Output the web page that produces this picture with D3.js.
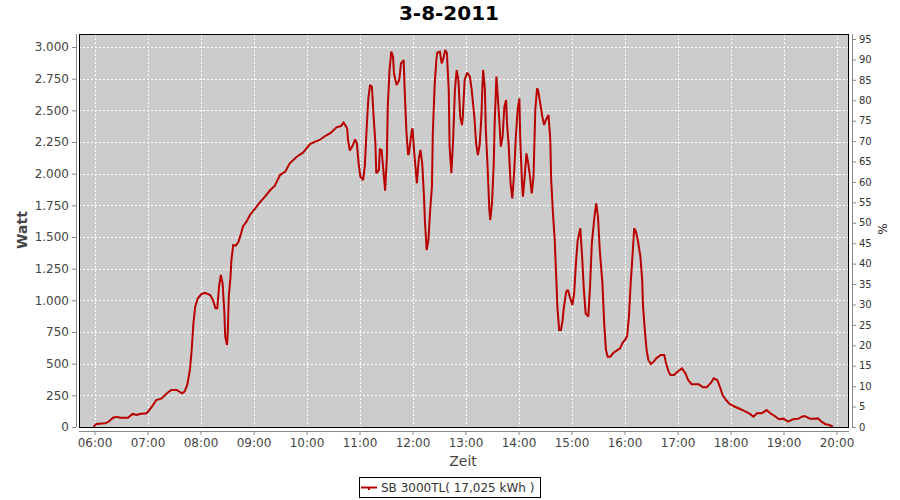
<!DOCTYPE html>
<html>
<head>
<meta charset="utf-8">
<script src="https://cdn.jsdelivr.net/npm/d3@7/dist/d3.min.js"></script>
<style>
  html, body { margin: 0; padding: 0; background: #fff; }
  svg { display: block; font-family: "DejaVu Sans", sans-serif; }
</style>
</head>
<body>
<svg id="chart" width="900" height="500"></svg>
<script>
const title = "3-8-2011";
const seriesName = "SB 3000TL( 17,025 kWh )";
const xLabel = "Zeit";
const yLabel = "Watt";
const y2Label = "%";

const times = [
  "05:59","06:02","06:12","06:16","06:21","06:25","06:29","06:38","06:43","06:48","06:51","06:59",
  "07:05","07:10","07:16","07:22","07:27","07:33","07:39","07:42","07:45","07:48","07:50","07:52","07:54","07:57",
  "08:01","08:05","08:11","08:14","08:17","08:19","08:21","08:23","08:25","08:27","08:28","08:30","08:31","08:32","08:34","08:35","08:37","08:40","08:43","08:46","08:48","08:52","08:56",
  "09:02","09:07","09:13","09:19","09:24","09:30","09:36","09:41","09:49","09:56",
  "10:04","10:10","10:15","10:21","10:27","10:34","10:39","10:42","10:46","10:47","10:49","10:52","10:55","10:57","10:59",
  "11:01","11:04","11:06","11:08","11:10","11:12","11:14","11:16","11:18","11:19","11:22","11:23","11:25","11:27","11:29","11:31","11:32","11:34","11:36","11:38","11:39","11:42","11:45","11:47","11:50","11:51","11:53","11:55","11:56","11:59",
  "12:00","12:02","12:04","12:05","12:07","12:09","12:11","12:13","12:14","12:16","12:18","12:20","12:22","12:23","12:25","12:27","12:28","12:31","12:33","12:35","12:37","12:39","12:41","12:42","12:44","12:46","12:48","12:50","12:52","12:54","12:56","12:57","12:59",
  "13:02","13:05","13:07","13:10","13:12","13:14","13:16","13:18","13:19","13:20","13:22","13:23","13:25","13:27","13:28","13:30","13:32","13:33","13:35","13:36","13:38","13:40","13:42","13:44","13:46","13:47","13:49","13:51","13:53","13:55","13:57","13:59",
  "14:01","14:02","14:04","14:05","14:07","14:09","14:11","14:13","14:15","14:17","14:19","14:21","14:22","14:24","14:27","14:29","14:31","14:34","14:36","14:37","14:39","14:41","14:43","14:44","14:46","14:48","14:50","14:51","14:54","14:56","14:58",
  "15:01","15:03","15:05","15:07","15:10","15:12","15:14","15:16","15:19","15:21","15:23","15:26","15:28","15:30","15:32","15:35","15:37","15:39","15:41","15:44","15:47","15:51","15:55","15:58",
  "16:01","16:03","16:05","16:07","16:09","16:11","16:13","16:15","16:18","16:20","16:21","16:23","16:25","16:27","16:30","16:33","16:36","16:41","16:45","16:47","16:50","16:52","16:56",
  "17:00","17:05","17:09","17:12","17:16","17:24","17:29","17:33","17:38","17:41","17:45","17:48","17:51","17:55","17:59",
  "18:05","18:11","18:16","18:22","18:26","18:30","18:35","18:41","18:45","18:50","18:55",
  "19:00","19:05","19:11","19:17","19:21","19:24","19:30","19:34","19:39","19:43","19:47","19:52","19:56"
];

const watts = [
  0,24,29,42,73,81,73,73,103,95,103,108,
  160,213,226,266,292,292,266,279,332,450,608,819,950,1016,
  1050,1060,1042,1003,937,937,1108,1200,1134,910,713,647,766,1029,1187,1318,1437,1432,1463,1529,1581,1621,1674,
  1726,1771,1818,1871,1903,1989,2016,2082,2134,2166,
  2234,2253,2266,2297,2319,2366,2376,2403,2358,2266,2182,2218,2271,2240,2082,
  1976,1950,2055,2345,2595,2700,2687,2450,2240,2003,2029,2192,2187,2029,1866,2134,2529,2818,2963,2924,2792,2700,2740,2871,2897,2687,2345,2147,2160,2332,
  2358,2160,2003,1924,2108,2187,2082,1818,1634,1397,1476,1713,1897,2319,2687,2897,2955,2963,2871,2911,2976,2950,2661,2213,2003,2266,2661,2818,2740,2450,2384,2450,2740,
  2797,2766,2661,2450,2240,2147,2226,2450,2661,2818,2661,2345,2055,1713,1634,1766,2082,2398,2766,2661,2450,2213,2292,2529,2582,2398,2213,1924,1805,2003,2292,2503,
  2595,2266,1924,1818,1976,2160,2082,1976,1845,1976,2503,2674,2661,2582,2450,2384,2424,2463,2266,1950,1687,1476,1134,950,766,766,845,924,1068,1082,1029,
  963,1055,1292,1476,1569,1345,1082,898,871,1108,1450,1660,1766,1660,1397,1134,819,608,555,555,582,603,621,666,
  692,718,871,1134,1345,1569,1542,1476,1345,1161,950,766,608,529,497,516,542,568,568,503,437,411,411,
  437,463,424,371,337,337,313,313,350,384,371,318,253,213,182,
  160,142,126,103,81,108,108,134,108,87,61,
  66,42,61,66,81,87,66,66,68,42,24,16,3
];

const xTickLabels = ["06:00","07:00","08:00","09:00","10:00","11:00","12:00","13:00","14:00","15:00","16:00","17:00","18:00","19:00","20:00"];
const yTicks = [0,250,500,750,1000,1250,1500,1750,2000,2250,2500,2750,3000];
const yTickLabels = ["0","250","500","750","1.000","1.250","1.500","1.750","2.000","2.250","2.500","2.750","3.000"];
const y2Ticks = [0,5,10,15,20,25,30,35,40,45,50,55,60,65,70,75,80,85,90,95];

const parseT = d3.timeParse("%H:%M");
const data = times.map((t, i) => ({ t: parseT(t), v: watts[i] }));

const svg = d3.select("#chart");
const plot = { left: 79, right: 849, top: 34, bottom: 427 };

const x = d3.scaleTime().domain([parseT("06:00"), parseT("20:00")]).range([94.5, 836.5]);
const y = d3.scaleLinear().domain([0, 3000]).range([427, 47]);
const y2 = d3.scaleLinear().domain([0, 95]).range([427, 39]);

// plot background
svg.append("rect")
  .attr("x", plot.left).attr("y", plot.top)
  .attr("width", plot.right - plot.left).attr("height", plot.bottom - plot.top)
  .attr("fill", "#cccccc");

// gridlines
const grid = svg.append("g").attr("stroke", "#ffffff").attr("stroke-width", 1).attr("stroke-dasharray", "2,2");
xTickLabels.forEach(l => {
  const px = Math.round(x(parseT(l))) + 0.5;
  grid.append("line").attr("x1", px).attr("x2", px).attr("y1", plot.top).attr("y2", plot.bottom);
});
yTicks.forEach(v => {
  const py = Math.round(y(v)) + 0.5;
  grid.append("line").attr("x1", plot.left).attr("x2", plot.right).attr("y1", py).attr("y2", py);
});

// clip
svg.append("clipPath").attr("id", "clip").append("rect")
  .attr("x", plot.left).attr("y", plot.top)
  .attr("width", plot.right - plot.left).attr("height", plot.bottom - plot.top);

// line
const line = d3.line().x(d => x(d.t)).y(d => y(d.v));
svg.append("path").datum(data)
  .attr("clip-path", "url(#clip)")
  .attr("fill", "none")
  .attr("stroke", "#b80000")
  .attr("stroke-width", 2)
  .attr("stroke-linejoin", "miter")
  .attr("stroke-miterlimit", 2)
  .attr("d", line);

// plot border
svg.append("rect")
  .attr("x", plot.left + 0.5).attr("y", plot.top + 0.5)
  .attr("width", plot.right - plot.left - 1).attr("height", plot.bottom - plot.top)
  .attr("fill", "none").attr("stroke", "#000").attr("stroke-width", 1);

// left axis
const leftAxis = d3.axisLeft(y).tickValues(yTicks).tickSize(4).tickPadding(3)
  .tickFormat((d, i) => yTickLabels[i]);
const gL = svg.append("g").attr("transform", "translate(76,0)").call(leftAxis);
gL.select(".domain").attr("stroke", "#888").attr("d", `M0.5,${plot.top}V${plot.bottom}`);
gL.selectAll(".tick line").attr("stroke", "#888");
gL.selectAll(".tick text").attr("fill", "#444").style("font-size", "12px").style("font-family", "DejaVu Sans");

// right axis
const rightAxis = d3.axisRight(y2).tickValues(y2Ticks).tickSize(4).tickPadding(3);
const gR = svg.append("g").attr("transform", "translate(852,0)").call(rightAxis);
gR.select(".domain").attr("stroke", "#888").attr("d", `M0.5,${plot.top}V${plot.bottom}`);
gR.selectAll(".tick line").attr("stroke", "#888");
gR.selectAll(".tick text").attr("fill", "#333").style("font-size", "10px").style("font-family", "DejaVu Sans");

// bottom axis
const bottomAxis = d3.axisBottom(x).tickValues(xTickLabels.map(parseT)).tickSize(4).tickPadding(3)
  .tickFormat((d, i) => xTickLabels[i]);
const gB = svg.append("g").attr("transform", "translate(0,431)").call(bottomAxis);
gB.select(".domain").attr("stroke", "#888").attr("d", `M${plot.left},0.5H${plot.right}`);
gB.selectAll(".tick line").attr("stroke", "#888");
gB.selectAll(".tick text").attr("fill", "#444").style("font-size", "12px").style("font-family", "DejaVu Sans");

// title
svg.append("text").attr("x", 449).attr("y", 20).attr("text-anchor", "middle")
  .style("font-size", "20px").style("font-weight", "bold").attr("fill", "#000").text(title);

// axis labels
svg.append("text").attr("transform", "translate(27,230) rotate(-90)").attr("text-anchor", "middle")
  .style("font-size", "14px").style("font-weight", "bold").attr("fill", "#444").text(yLabel);
svg.append("text").attr("x", 463).attr("y", 466).attr("text-anchor", "middle")
  .style("font-size", "14px").attr("fill", "#444").text(xLabel);
svg.append("text").attr("transform", "translate(878,229) rotate(90)").attr("text-anchor", "middle")
  .style("font-size", "12px").attr("fill", "#222").text(y2Label);

// legend
const lg = svg.append("g");
lg.append("rect").attr("x", 359.5).attr("y", 477.5).attr("width", 181).attr("height", 20)
  .attr("fill", "#fff").attr("stroke", "#000").attr("stroke-width", 1);
lg.append("line").attr("x1", 361).attr("x2", 377).attr("y1", 487.5).attr("y2", 487.5)
  .attr("stroke", "#b80000").attr("stroke-width", 2);
lg.append("rect").attr("x", 368).attr("y", 487).attr("width", 2).attr("height", 3).attr("fill", "#b80000");
lg.append("text").attr("x", 381).attr("y", 492).style("font-size", "12px").attr("fill", "#333").text(seriesName);
</script>
</body>
</html>
